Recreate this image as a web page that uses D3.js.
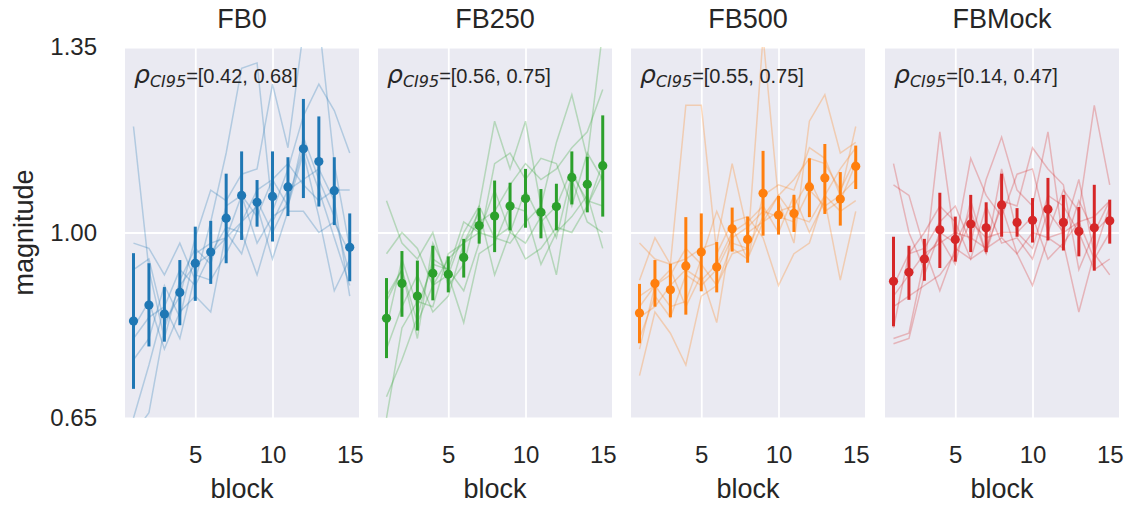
<!DOCTYPE html>
<html>
<head>
<meta charset="utf-8">
<script src="https://cdn.jsdelivr.net/npm/d3@7"></script>
<style>
  body { margin: 0; background: #fff; }
  text { font-family: "Liberation Sans", Arial, sans-serif; fill: #262626; }
</style>
</head>
<body>
<script>
var W = 1128, H = 505;

// blocks on the x axis
var blocks = [1, 2, 3, 4, 5, 6, 7, 8, 9, 10, 11, 12, 13, 14, 15];
var panelNames = ["FB0", "FB250", "FB500", "FBMock"];
var panelColors = ["#1f77b4", "#2ca02c", "#ff7f0e", "#d62728"];
var rhoCI = [[0.42, 0.68], [0.56, 0.75], [0.55, 0.75], [0.14, 0.47]];
var yTicks = [0.65, 1.00, 1.35];
var xTicks = [5, 10, 15];

// means and 95% CI per block
var meanFB0 = [0.833, 0.863, 0.846, 0.887, 0.942, 0.963, 1.027, 1.070, 1.057, 1.068, 1.086, 1.158, 1.134, 1.079, 0.972];
var loFB0   = [0.705, 0.785, 0.794, 0.825, 0.871, 0.903, 0.942, 0.986, 1.011, 0.983, 1.031, 1.065, 1.049, 1.014, 0.908];
var hiFB0   = [0.961, 0.942, 0.897, 0.948, 1.011, 1.022, 1.111, 1.153, 1.099, 1.153, 1.142, 1.252, 1.219, 1.142, 1.036];

var meanFB250 = [0.838, 0.904, 0.880, 0.923, 0.921, 0.953, 1.013, 1.031, 1.050, 1.064, 1.038, 1.049, 1.104, 1.091, 1.126];
var loFB250   = [0.763, 0.841, 0.815, 0.872, 0.887, 0.915, 0.979, 0.963, 1.004, 1.009, 0.989, 1.004, 1.053, 1.038, 1.030];
var hiFB250   = [0.914, 0.965, 0.947, 0.975, 0.955, 0.988, 1.046, 1.098, 1.094, 1.120, 1.082, 1.092, 1.153, 1.143, 1.221];

var meanFB500 = [0.848, 0.904, 0.892, 0.937, 0.963, 0.935, 1.007, 0.987, 1.074, 1.033, 1.036, 1.086, 1.103, 1.063, 1.125];
var loFB500   = [0.791, 0.860, 0.840, 0.845, 0.889, 0.887, 0.964, 0.943, 0.994, 0.996, 1.001, 1.029, 1.035, 1.013, 1.082];
var hiFB500   = [0.903, 0.948, 0.941, 1.029, 1.036, 0.982, 1.047, 1.030, 1.154, 1.069, 1.071, 1.140, 1.167, 1.114, 1.164];

var meanFBMock = [0.908, 0.925, 0.950, 1.005, 0.987, 1.016, 1.009, 1.052, 1.019, 1.023, 1.044, 1.019, 1.002, 1.009, 1.022];
var loFBMock   = [0.823, 0.873, 0.909, 0.933, 0.945, 0.963, 0.963, 0.992, 0.992, 0.981, 0.985, 0.966, 0.955, 0.928, 0.979];
var hiFBMock   = [0.992, 0.975, 0.988, 1.075, 1.030, 1.071, 1.057, 1.111, 1.046, 1.065, 1.103, 1.071, 1.048, 1.090, 1.062];

// individual subjects (faint lines)
var subjFB0 = [
  [1.20, 0.93, 0.80, 0.91, 0.97, 0.94, 1.05, 1.07, 1.03, 1.10, 1.13, 1.09, 1.06, 1.08, 1.08],
  [0.98, 0.97, 0.92, 0.98, 0.91, 1.02, 1.15, 1.31, 1.32, 1.04, 1.12, 1.22, 1.28, 1.23, 1.15],
  [0.93, 0.95, 0.83, 0.88, 0.99, 1.08, 1.06, 1.11, 1.12, 1.28, 1.16, 1.38, 1.40, 1.13, 0.97],
  [0.65, 0.75, 0.86, 0.80, 0.92, 0.91, 0.96, 1.02, 1.08, 1.10, 1.05, 1.18, 1.10, 1.03, 0.92],
  [0.62, 0.66, 0.82, 0.90, 0.94, 0.96, 1.01, 1.00, 0.92, 1.02, 1.08, 1.10, 1.12, 1.06, 0.88],
  [0.82, 0.87, 0.78, 0.85, 0.88, 0.85, 1.00, 0.96, 1.06, 1.00, 1.06, 1.16, 1.08, 0.99, 0.90],
  [0.76, 0.80, 0.90, 0.84, 0.96, 0.98, 0.99, 1.02, 1.05, 0.95, 1.04, 1.04, 1.00, 1.02, 0.96],
  [0.80, 0.84, 0.86, 0.93, 0.90, 0.96, 0.99, 1.07, 0.98, 1.03, 1.05, 1.15, 1.03, 0.89, 0.95]
];
var subjFB250 = [
  [1.06, 0.98, 0.95, 1.00, 0.90, 0.94, 1.05, 1.21, 1.12, 1.21, 1.05, 1.17, 1.26, 1.14, 1.38],
  [0.65, 0.82, 0.87, 0.86, 0.96, 0.98, 1.02, 1.04, 1.09, 1.13, 1.10, 1.12, 1.16, 1.19, 1.27],
  [0.69, 0.76, 0.84, 0.95, 0.93, 0.89, 0.98, 1.13, 1.15, 1.10, 1.14, 1.13, 1.05, 1.15, 1.10],
  [0.96, 1.00, 0.97, 0.90, 0.95, 0.98, 1.00, 1.08, 1.00, 0.98, 1.03, 0.92, 1.10, 1.02, 1.00],
  [0.87, 0.93, 0.80, 0.98, 0.92, 0.83, 0.96, 0.98, 1.05, 1.04, 0.94, 1.00, 1.03, 1.07, 0.97],
  [0.78, 0.86, 0.92, 0.85, 0.88, 0.98, 1.04, 0.92, 1.00, 1.08, 1.02, 1.05, 1.12, 1.05, 1.13],
  [0.82, 0.95, 0.86, 0.94, 0.93, 1.02, 1.00, 0.99, 0.98, 1.02, 1.05, 0.99, 1.11, 1.06, 1.05],
  [0.88, 0.93, 0.83, 0.90, 0.92, 1.00, 1.05, 0.99, 1.01, 0.95, 0.97, 1.01, 1.00, 1.05, 1.11]
];
var subjFB500 = [
  [0.98, 0.95, 0.94, 1.24, 1.24, 0.96, 1.02, 1.03, 0.99, 0.90, 0.96, 0.98, 1.07, 1.12, 1.16],
  [0.73, 0.85, 0.81, 0.75, 0.88, 0.90, 0.96, 0.97, 1.37, 1.06, 0.98, 1.21, 1.26, 1.15, 1.17],
  [0.88, 0.90, 0.93, 0.86, 0.92, 0.83, 1.01, 0.95, 1.07, 1.09, 1.08, 1.16, 1.14, 1.07, 1.10],
  [0.91, 0.99, 0.94, 0.95, 0.97, 0.98, 1.13, 1.00, 1.02, 1.07, 1.03, 1.02, 1.07, 1.04, 1.06],
  [0.84, 0.86, 0.90, 0.93, 0.91, 0.94, 1.00, 1.02, 1.05, 1.00, 1.07, 1.00, 1.06, 0.91, 1.04],
  [0.78, 0.90, 0.86, 0.87, 0.95, 1.04, 0.97, 0.95, 1.02, 1.04, 1.05, 1.10, 1.04, 1.06, 1.13],
  [0.80, 0.88, 0.84, 0.92, 0.90, 0.93, 0.99, 1.01, 1.04, 1.03, 1.02, 1.08, 1.05, 1.07, 1.20],
  [0.86, 0.90, 0.92, 0.97, 0.94, 0.90, 0.98, 0.97, 1.03, 1.07, 1.10, 1.14, 1.13, 1.08, 1.14]
];
var subjFBMock = [
  [1.13, 1.00, 0.93, 1.19, 0.98, 1.14, 1.07, 1.03, 1.11, 1.12, 1.00, 1.08, 1.04, 1.24, 1.09],
  [1.09, 1.07, 0.97, 1.02, 1.05, 0.98, 1.10, 1.18, 1.08, 1.05, 1.19, 0.98, 1.02, 1.03, 1.06],
  [0.80, 0.81, 0.95, 0.99, 0.94, 1.06, 0.96, 1.12, 1.00, 0.97, 1.07, 1.05, 1.00, 0.93, 0.95],
  [0.79, 0.80, 0.92, 1.00, 0.98, 1.04, 0.96, 1.06, 1.05, 1.16, 1.12, 1.09, 0.93, 1.00, 1.06],
  [0.86, 0.88, 0.90, 0.92, 0.96, 1.02, 0.99, 1.00, 1.00, 1.03, 0.95, 0.98, 0.85, 0.96, 0.92],
  [0.90, 0.96, 1.00, 1.05, 1.02, 0.95, 1.05, 0.98, 0.99, 0.95, 1.04, 1.00, 1.02, 0.95, 1.00],
  [0.88, 0.92, 0.96, 0.98, 1.00, 0.99, 0.97, 1.05, 0.96, 1.00, 0.99, 0.97, 1.06, 1.00, 1.03],
  [0.82, 0.96, 0.97, 0.89, 0.97, 0.95, 0.97, 0.99, 0.96, 0.90, 0.99, 1.00, 1.10, 0.96, 1.05]
];

var means = [meanFB0, meanFB250, meanFB500, meanFBMock];
var los = [loFB0, loFB250, loFB500, loFBMock];
var his = [hiFB0, hiFB250, hiFB500, hiFBMock];
var subjects = [subjFB0, subjFB250, subjFB500, subjFBMock];

// layout
var panelLeft = [125, 378, 631, 885],
    panelW = 234,
    plotTop = 47,
    plotBottom = 418;

var y = d3.scaleLinear().domain([0.65, 1.35]).range([plotBottom, plotTop]);

var svg = d3.select("body").append("svg")
    .attr("width", W)
    .attr("height", H);

svg.append("text")
    .attr("transform", "translate(33," + (plotTop + plotBottom) / 2 + ") rotate(-90)")
    .attr("text-anchor", "middle")
    .attr("font-size", 27)
    .text("magnitude");

// y tick labels only on first panel
svg.append("g")
    .attr("transform", "translate(" + panelLeft[0] + ",0)")
    .call(d3.axisLeft(y).tickValues(yTicks).tickFormat(d3.format(".2f")).tickSize(0).tickPadding(28))
    .call(function(g) {
      g.select(".domain").remove();
      g.selectAll("text").attr("font-size", 24).attr("fill", "#262626")
        .style("font-family", "'Liberation Sans', Arial, sans-serif");
    });

panelNames.forEach(function(name, p) {
  var x = d3.scaleLinear().domain([0.45, 15.6]).range([0, panelW]);
  var col = panelColors[p];

  var g = svg.append("g")
      .attr("transform", "translate(" + panelLeft[p] + ",0)");

  g.append("clipPath").attr("id", "clip" + p)
    .append("rect").attr("x", 0).attr("y", plotTop).attr("width", panelW).attr("height", plotBottom - plotTop);

  g.append("rect")
      .attr("x", 0).attr("y", plotTop)
      .attr("width", panelW).attr("height", plotBottom - plotTop)
      .attr("fill", "#eaeaf2");

  // grid
  g.append("g")
      .attr("transform", "translate(0," + plotBottom + ")")
      .call(d3.axisBottom(x).tickValues([5, 10]).tickSize(-(plotBottom - plotTop)).tickFormat(""))
      .call(function(a) {
        a.select(".domain").remove();
        a.selectAll("line").attr("stroke", "#fff").attr("stroke-width", 1.8);
      });
  g.append("g")
      .call(d3.axisLeft(y).tickValues(yTicks).tickSize(-panelW).tickFormat(""))
      .call(function(a) {
        a.select(".domain").remove();
        a.selectAll("line").attr("stroke", "#fff").attr("stroke-width", 1.8);
      });

  // x tick labels
  g.append("g")
      .attr("transform", "translate(0," + plotBottom + ")")
      .call(d3.axisBottom(x).tickValues(xTicks).tickSize(0).tickPadding(28))
      .call(function(a) {
        a.select(".domain").remove();
        a.selectAll("text").attr("font-size", 24).attr("fill", "#262626")
          .style("font-family", "'Liberation Sans', Arial, sans-serif");
      });

  g.append("text")
      .attr("x", panelW / 2).attr("y", 498)
      .attr("text-anchor", "middle")
      .attr("font-size", 27)
      .text("block");

  g.append("text")
      .attr("x", panelW / 2).attr("y", 28)
      .attr("text-anchor", "middle")
      .attr("font-size", 27)
      .text(name);

  var line = d3.line()
      .x(function(d, i) { return x(blocks[i]); })
      .y(function(d) { return y(d); });

  g.append("g")
      .attr("clip-path", "url(#clip" + p + ")")
    .selectAll("path")
    .data(subjects[p])
    .enter().append("path")
      .attr("d", line)
      .attr("fill", "none")
      .attr("stroke", col)
      .attr("stroke-opacity", 0.28)
      .attr("stroke-width", 1.5);

  g.append("g").selectAll("line")
    .data(blocks)
    .enter().append("line")
      .attr("x1", function(d) { return x(d); })
      .attr("x2", function(d) { return x(d); })
      .attr("y1", function(d, i) { return y(los[p][i]); })
      .attr("y2", function(d, i) { return y(his[p][i]); })
      .attr("stroke", col)
      .attr("stroke-width", 3);

  g.append("g").selectAll("circle")
    .data(blocks)
    .enter().append("circle")
      .attr("cx", function(d) { return x(d); })
      .attr("cy", function(d, i) { return y(means[p][i]); })
      .attr("r", 4.6)
      .attr("fill", col);

  // rho CI annotation
  var t = g.append("text")
      .attr("x", 9).attr("y", 83)
      .attr("font-size", 20);
  t.append("tspan")
      .attr("font-size", 25)
      .style("font-family", "'DejaVu Sans', sans-serif")
      .style("font-style", "italic")
      .text("ρ");
  t.append("tspan")
      .attr("dy", 4)
      .attr("font-size", 16)
      .style("font-family", "'DejaVu Sans', sans-serif")
      .style("font-style", "italic")
      .text("CI95");
  t.append("tspan")
      .attr("dy", -4)
      .text("=[" + rhoCI[p][0].toFixed(2) + ", " + rhoCI[p][1].toFixed(2) + "]");
});
</script>
</body>
</html>
